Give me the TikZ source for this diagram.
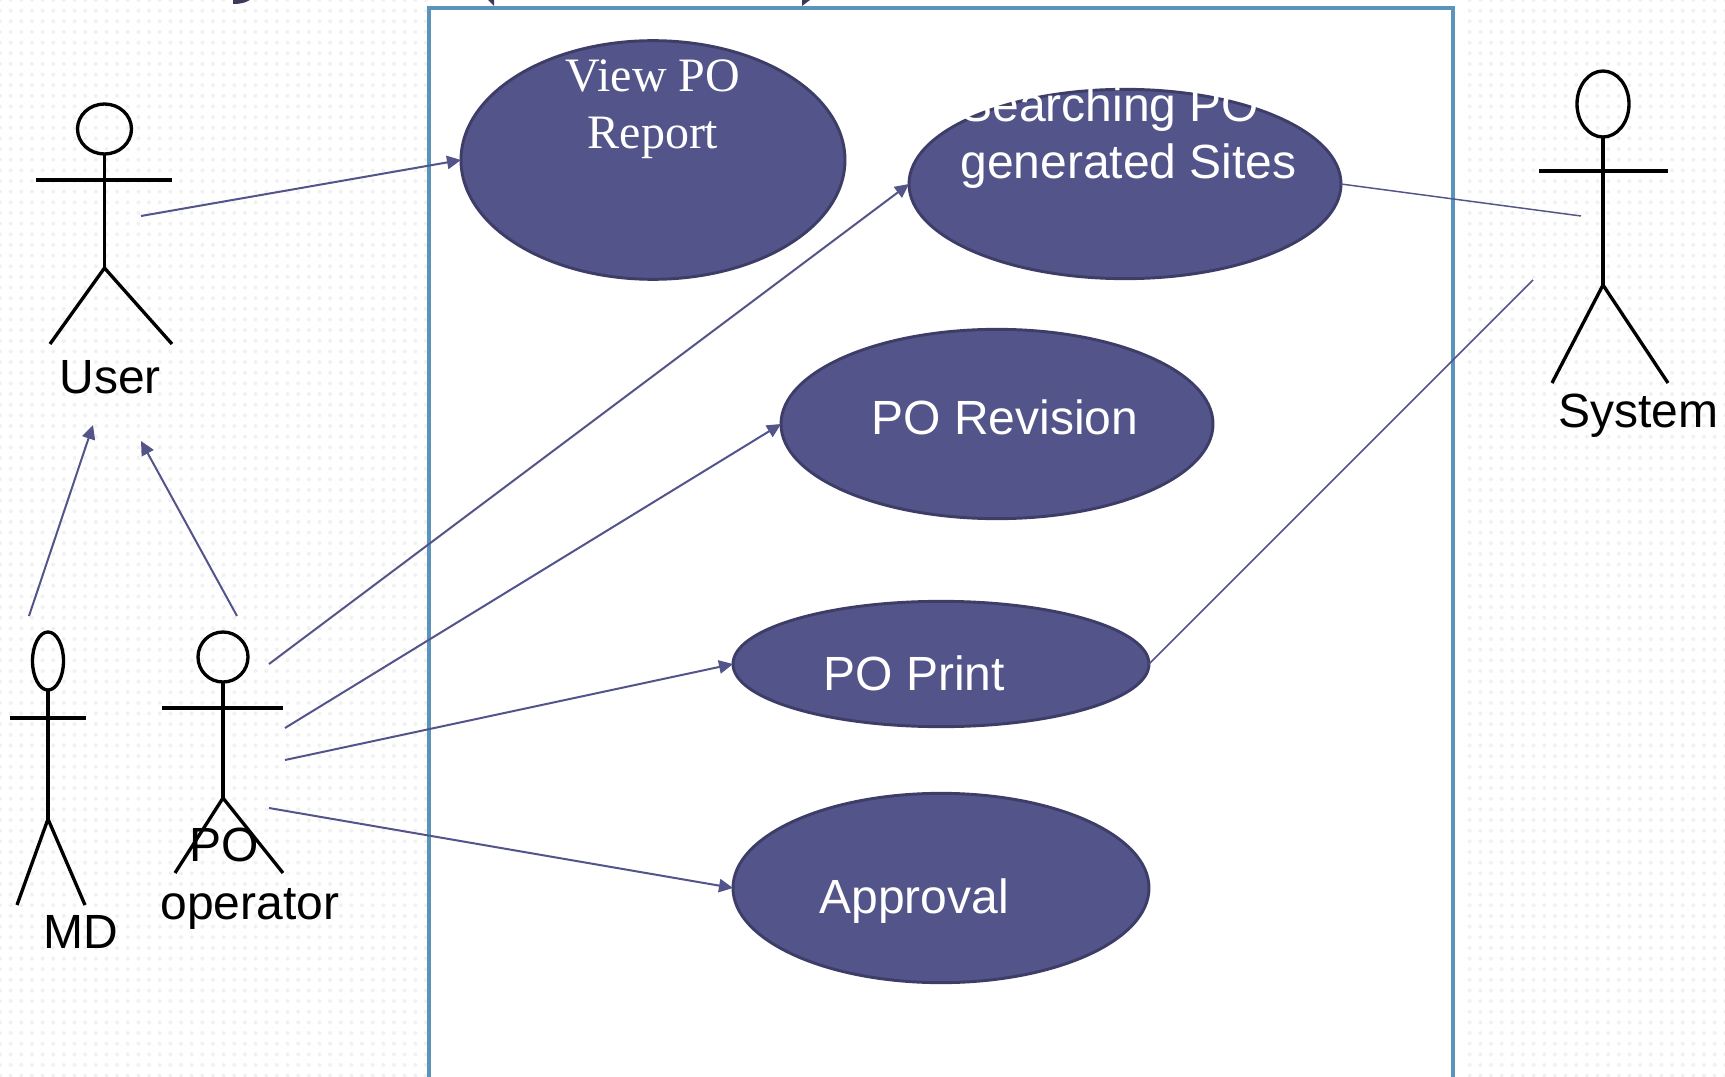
\documentclass[tikz,border=0pt]{standalone}
\usepackage{fontspec}
\setmainfont{Liberation Sans}
\newfontfamily\serifcase{Liberation Serif}
\usetikzlibrary{shapes.geometric,arrows.meta}
\tikzset{every picture/.style={line width=0.75pt}}
\tikzset{
  dotfill/.style={fill={rgb, 255:red, 241; green, 241; blue, 241}},
  frameline/.style={draw={rgb, 255:red, 91; green, 148; blue, 186}, line width=3pt},
  actorline/.style={draw=black, line width=2.5pt},
  usecase/.style={ellipse, draw={rgb, 255:red, 61; green, 61; blue, 104}, fill={rgb, 255:red, 83; green, 84; blue, 138}, line width=2.2pt, inner sep=0pt, outer sep=0pt},
  assoc/.style={draw={rgb, 255:red, 83; green, 84; blue, 138}, line width=1.5pt},
  assocthin/.style={draw={rgb, 255:red, 83; green, 84; blue, 138}, line width=1.1pt},
  assocarrow/.style={assoc, -{Triangle[length=10.5pt,width=10pt]}},
  casetext/.style={text=white, font=\fontsize{36}{43}\selectfont, inner sep=0.75pt},
  actortext/.style={text=black, font=\fontsize{36}{43}\selectfont, inner sep=0.75pt},
  scrap/.style={fill={rgb, 255:red, 58; green, 58; blue, 94}}
}

\begin{document}
\begin{tikzpicture}[x=0.75pt,y=0.75pt,yscale=-1,xscale=1]
\useasboundingbox (0,0) rectangle (1725,1077);

%Dotted ground
\foreach \dotx in {0,...,40} \foreach \doty in {0,...,101} {\fill[dotfill] (10.65*\dotx,10.65*\doty) circle (2);}
\foreach \dotx in {138,...,162} \foreach \doty in {0,...,101} {\fill[dotfill] (10.65*\dotx,10.65*\doty) circle (2);}

%Shape: Rectangle
\fill[white] (429,8) rectangle (1453,1085);
\draw[frameline] (429,1085) -- (429,8) -- (1453,8) -- (1453,1085);

%Shape: leftovers at the top edge
\fill[scrap] (233,0) -- (250,0) .. controls (245,3) and (240,4) .. (233,4) -- cycle;
\fill[scrap] (488,0) -- (494,0) -- (494,6) -- cycle;
\fill[scrap] (802,0) -- (810,0) -- (802,6) -- cycle;

%Shape: Ellipse
\node[usecase, minimum width=288pt, minimum height=179pt] (viewpo) at (653,160) {};
\node[usecase, minimum width=324pt, minimum height=142pt] (searchpo) at (1125,184) {};
\node[usecase, minimum width=324pt, minimum height=142pt] (revision) at (997,424) {};
\node[usecase, minimum width=312pt, minimum height=94pt] (poprint) at (941,664) {};
\node[usecase, minimum width=312pt, minimum height=142pt] (approval) at (941,888) {};

%Actor: User
\draw[actorline] (104.5,129) ellipse (27 and 25);
\draw[actorline] (104.5,154) -- (104.5,268);
\draw[actorline] (36,180) -- (172,180);
\draw[actorline] (50,344) -- (104.5,268) -- (172,344);
%Actor: MD
\draw[actorline] (48,661) ellipse (15.5 and 29);
\draw[actorline] (48,690) -- (48,819);
\draw[actorline] (10,718) -- (86,718);
\draw[actorline] (17,905) -- (48,819) -- (85,905);
%Actor: PO operator
\draw[actorline] (223,657) ellipse (25 and 25);
\draw[actorline] (223,682) -- (223,798);
\draw[actorline] (162,708) -- (283,708);
\draw[actorline] (175,873) -- (223,798) -- (283,873);
%Actor: System
\draw[actorline] (1603,104) ellipse (26 and 33);
\draw[actorline] (1603,137) -- (1603,285);
\draw[actorline] (1539,171) -- (1668,171);
\draw[actorline] (1552,383) -- (1603,285) -- (1668,383);

%Free ends
\coordinate (userfoot) at (141,216);
\coordinate (mdfoot) at (29,616);
\coordinate (mdtip) at (93,425);
\coordinate (opfoot) at (237,616);
\coordinate (optip) at (141,441);
\coordinate (opsearch) at (269,664);
\coordinate (oprevision) at (285,728);
\coordinate (opprint) at (285,760);
\coordinate (opapproval) at (269,808);
\coordinate (syssearch) at (1581,216);
\coordinate (sysprint) at (1533,280);

%Straight Lines
\draw[assocarrow] (userfoot) -- (viewpo.west);
\draw[assocarrow] (mdfoot) -- (mdtip);
\draw[assocarrow] (opfoot) -- (optip);
\draw[assocarrow] (opsearch) -- (searchpo.west);
\draw[assocarrow] (oprevision) -- (revision.west);
\draw[assocarrow] (opprint) -- (poprint.west);
\draw[assocarrow] (opapproval) -- (approval.west);
\draw[assocthin] (searchpo.east) -- (syssearch);
\draw[assocthin] (poprint.east) -- (sysprint);

% Text Node
\node[casetext, anchor=base, align=center, font=\fontsize{36}{43}\selectfont\serifcase] (viewtext) at (653,149) {View PO\\Report};
% Text Node
\node[casetext, anchor=base west, align=left] (searchtext) at (959,179) {Searching PO\\generated Sites};
% Text Node
\node[casetext, anchor=base west] (revisiontext) at (870,434) {PO Revision};
% Text Node
\node[casetext, anchor=base west] (printtext) at (822,690) {PO Print};
% Text Node
\node[casetext, anchor=base west] (approvaltext) at (818,913) {Approval};
% Text Node
\node[actortext, anchor=base west] (usertext) at (58,393) {User};
% Text Node
\node[actortext, anchor=base west] (mdtext) at (42,948) {MD};
% Text Node
\node[actortext, anchor=base west, align=left] (optext) at (159,919) {\hspace*{21.75pt}PO\\operator};
% Text Node
\node[actortext, anchor=base west] (systext) at (1557,427) {System};

\end{tikzpicture}
\end{document}
